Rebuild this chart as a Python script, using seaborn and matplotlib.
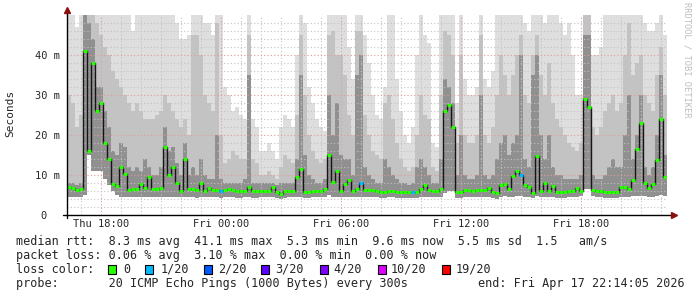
import numpy as np
import pandas as pd
import matplotlib
matplotlib.use("Agg")
import matplotlib.pyplot as plt
import seaborn as sns
from matplotlib.patches import Rectangle

# ---------------- data ----------------
start_hour = 16.3      # left edge, hours after Thu 00:00
step_hours = 0.2       # 12-minute bins

median_ms = [
    7.0, 6.8, 6.2, 6.4, 41.0, 16.0, 38.0, 26.0, 28.0, 18.0,
    14.0, 7.8, 7.2, 12.0, 10.3, 6.3, 6.6, 6.6, 7.8, 6.8,
    9.5, 6.6, 6.6, 6.8, 17.0, 10.0, 12.0, 8.0, 6.0, 14.0,
    6.4, 6.4, 6.2, 8.0, 6.0, 6.8, 6.2, 6.2, 6.0, 6.2,
    6.4, 6.2, 6.0, 6.0, 6.0, 7.0, 5.9, 5.9, 6.0, 6.0,
    6.0, 7.0, 5.8, 5.3, 6.0, 6.0, 6.0, 9.5, 11.6, 5.8,
    5.8, 6.0, 6.0, 6.0, 6.4, 15.0, 8.2, 11.0, 6.0, 7.8,
    8.7, 6.0, 6.5, 8.0, 6.3, 6.3, 6.3, 6.1, 5.8, 5.8,
    6.0, 6.0, 5.8, 5.8, 5.8, 5.8, 5.8, 5.8, 6.6, 7.6,
    6.2, 6.0, 6.0, 6.5, 26.0, 27.5, 22.0, 5.8, 5.8, 6.2,
    6.2, 6.1, 6.2, 6.2, 6.2, 6.8, 5.8, 5.5, 7.4, 7.8,
    6.6, 9.8, 11.0, 10.0, 7.4, 7.0, 5.6, 14.7, 6.0, 8.0,
    6.0, 7.2, 5.8, 5.8, 5.8, 6.0, 6.0, 6.7, 6.0, 29.0,
    27.0, 6.2, 6.0, 6.0, 5.8, 5.8, 5.8, 5.8, 7.0, 7.0,
    6.4, 8.7, 16.6, 23.0, 8.0, 6.8, 7.7, 13.7, 24.0, 9.6,
]

loss_of_20 = [
    0, 0, 0, 0, 0, 0, 0, 0, 0, 0, 0, 0, 0, 0, 0, 0, 0, 0, 0, 0, 0, 0, 0, 0, 0, 0, 0, 0, 0, 0,
    0, 0, 0, 0, 0, 0, 0, 0, 1, 0, 0, 0, 0, 0, 0, 0, 0, 0, 0, 0, 0, 0, 0, 0, 0, 0, 0, 0, 0, 0,
    0, 0, 0, 0, 0, 0, 0, 0, 0, 0, 0, 0, 0, 1, 0, 0, 0, 0, 0, 0, 0, 0, 0, 0, 0, 0, 1, 0, 0, 0,
    0, 0, 0, 0, 0, 0, 0, 0, 0, 0, 0, 0, 0, 0, 0, 0, 0, 0, 0, 0, 0, 0, 0, 1, 0, 0, 0, 0, 0, 0,
    0, 0, 0, 0, 0, 0, 0, 0, 0, 0, 0, 0, 0, 0, 0, 0, 0, 0, 0, 0, 0, 0, 0, 0, 0, 0, 0, 0, 0, 0,
]

smoke_min = [
    4.5, 4.5, 4.5, 4.6, 5.0, 15.0, 11.0, 11.0, 11.0, 9.0,
    7.5, 6.0, 5.0, 4.5, 4.5, 4.6, 4.5, 4.5, 4.4, 4.5,
    4.5, 4.6, 4.5, 4.5, 4.6, 4.5, 4.5, 4.4, 4.5, 4.5,
    4.5, 4.4, 4.3, 4.5, 4.4, 4.5, 4.5, 4.4, 4.3, 4.5,
    4.4, 4.4, 4.3, 4.3, 4.4, 4.5, 4.3, 4.3, 4.4, 4.4,
    4.4, 4.5, 4.2, 4.0, 4.3, 4.4, 4.4, 4.5, 4.5, 4.3,
    4.2, 4.4, 4.4, 4.4, 4.5, 5.0, 4.6, 4.5, 4.4, 4.5,
    4.5, 4.4, 4.5, 4.6, 4.5, 4.5, 4.5, 4.4, 4.3, 4.3,
    4.4, 4.4, 4.3, 4.3, 4.3, 4.3, 4.3, 4.3, 4.5, 4.6,
    4.5, 4.4, 4.4, 4.6, 5.5, 6.0, 6.0, 4.3, 4.3, 4.5,
    4.5, 4.4, 4.5, 4.5, 4.5, 4.6, 4.3, 4.1, 4.6, 4.7,
    4.5, 4.6, 4.7, 4.7, 4.5, 4.5, 4.2, 4.8, 4.5, 4.6,
    4.5, 4.6, 4.3, 4.3, 4.3, 4.4, 4.4, 4.5, 4.8, 6.5,
    6.5, 4.8, 4.4, 4.4, 4.3, 4.3, 4.3, 4.3, 4.6, 4.6,
    4.5, 4.7, 4.8, 4.8, 4.7, 4.5, 4.6, 4.8, 5.0, 4.8,
]

smoke_dark = [
    8, 8, 7.5, 8, 50, 48, 44, 32, 32, 26,
    22, 16, 15, 18, 17, 12, 11, 12, 11, 14,
    12, 10, 10, 12, 22, 16, 17, 13, 10, 18,
    10, 12, 10, 14, 10, 9, 9, 20, 9, 8,
    8, 8, 8, 8, 9, 35, 8, 8, 8, 8,
    8, 8, 7.5, 8, 8, 8, 8, 14, 35, 15,
    10, 9, 8, 8, 9, 30, 20, 28, 15, 14,
    14, 10, 35, 40, 12, 10, 9, 8, 8, 14,
    12, 10, 9, 8, 8, 7.5, 8, 12, 14, 12,
    10, 8, 8, 14, 34, 32, 28, 10, 20, 10,
    9, 9, 10, 30, 10, 9, 10, 14, 18, 20,
    15, 18, 20, 40, 14, 12, 35, 40, 20, 14,
    20, 12, 10, 10, 9, 9, 9, 9, 10, 45,
    45, 10, 9, 9, 10, 12, 14, 12, 12, 20,
    30, 14, 20, 30, 12, 10, 12, 20, 35, 15,
]

smoke_mid = [
    30, 28, 22, 25, 50, 50, 50, 48, 45, 42,
    40, 36, 34, 32, 30, 28, 26, 28, 26, 24,
    24, 24, 25, 26, 30, 28, 26, 24, 22, 24,
    20, 45, 45, 40, 30, 28, 26, 48, 20, 13,
    14, 16, 15, 14, 14, 45, 14, 13, 10, 10,
    11, 10, 9, 12, 15, 14, 13, 25, 45, 30,
    20, 16, 14, 13, 14, 45, 46, 40, 40, 35,
    25, 20, 46, 46, 25, 20, 16, 15, 14, 28,
    30, 24, 18, 14, 12, 11, 12, 20, 30, 25,
    24, 12, 11, 30, 46, 45, 40, 18, 40, 20,
    18, 18, 20, 45, 20, 18, 22, 30, 40, 35,
    30, 35, 40, 45, 30, 28, 40, 45, 35, 30,
    38, 28, 24, 22, 20, 18, 17, 16, 18, 50,
    50, 22, 20, 22, 26, 28, 30, 26, 28, 40,
    48, 35, 38, 40, 30, 28, 26, 35, 42, 30,
]

smoke_max = [
    50, 50, 47, 50, 50, 50, 50, 50, 50, 50,
    50, 50, 50, 50, 50, 50, 46, 50, 50, 50,
    50, 50, 50, 50, 50, 50, 50, 48, 44, 44,
    45, 50, 50, 50, 48, 48, 45, 50, 50, 32,
    30, 26, 27, 25, 24, 50, 24, 22, 16, 16,
    18, 16, 14, 22, 25, 24, 22, 40, 50, 48,
    32, 28, 24, 22, 21, 50, 50, 50, 50, 50,
    42, 34, 50, 50, 45, 38, 30, 25, 24, 32,
    50, 50, 34, 26, 20, 18, 22, 40, 50, 45,
    43, 18, 17, 50, 50, 50, 50, 28, 50, 34,
    30, 30, 32, 50, 34, 32, 36, 50, 50, 50,
    50, 50, 50, 50, 48, 46, 50, 50, 50, 48,
    50, 50, 50, 48, 45, 48, 40, 30, 30, 50,
    50, 40, 40, 42, 50, 50, 50, 50, 50, 50,
    50, 50, 50, 50, 48, 46, 46, 48, 50, 45,
]

x_tick_hours = [18, 24, 30, 36, 42]
x_tick_labels = ["Thu 18:00", "Fri 00:00", "Fri 06:00", "Fri 12:00", "Fri 18:00"]
y_tick_values = [0, 10, 20, 30, 40]
y_tick_labels = ["0  ", "10 m", "20 m", "30 m", "40 m"]

loss_names = ["0", "1/20", "2/20", "3/20", "4/20", "10/20", "19/20"]
loss_thresholds = [0, 1, 2, 3, 4, 10, 19]
loss_palette = ["#26ff00", "#00b8ff", "#0059ff", "#5e00ff", "#7e00ff", "#dd00ff", "#ff0000"]

line_rtt = "median rtt:  8.3 ms avg  41.1 ms max  5.3 ms min  9.6 ms now  5.5 ms sd  1.5   am/s"
line_loss = "packet loss: 0.06 % avg  3.10 % max  0.00 % min  0.00 % now"
line_color = "loss color:"
line_probe = "probe:       20 ICMP Echo Pings (1000 Bytes) every 300s"
line_end = "end: Fri Apr 17 22:14:05 2026"
y_title = "Seconds"
watermark = "RRDTOOL / TOBI OETIKER"

# ---------------- drawing ----------------
sns.set_style("white")
plt.rcParams['font.family'] = ['DejaVu Sans Mono', 'DejaVu Sans']

W, H = 697, 297
fig = plt.figure(figsize=(W / 100, H / 100), dpi=100)
ax = fig.add_axes([67 / W, 82 / H, 600 / W, 200 / H])

n = len(median_ms)
edges = start_hour + step_hours * np.arange(n + 1)


def close(v):
    v = np.asarray(v, dtype=float)
    return np.append(v, v[-1])


ax.fill_between(edges, close(smoke_min), close(smoke_max), step='post',
                color='#dedede', lw=0, zorder=1)
ax.fill_between(edges, close(smoke_min), close(smoke_mid), step='post',
                color='#c3c3c3', lw=0, zorder=1.1)
ax.fill_between(edges, close(smoke_min), close(smoke_dark), step='post',
                color='#909090', lw=0, zorder=1.2)

df = pd.DataFrame({'hour': edges, 'median': close(median_ms)})
sns.lineplot(data=df, x='hour', y='median', drawstyle='steps-post',
             color='#151515', lw=1.0, ax=ax, zorder=4)


def loss_color(l):
    idx = 0
    for i, th in enumerate(loss_thresholds):
        if l >= th:
            idx = i
    return loss_palette[idx]


ax.hlines(median_ms, edges[:-1], edges[1:],
          colors=[loss_color(l) for l in loss_of_20], lw=2.2, zorder=5)

ax.set_xlim(edges[0], edges[-1])
ax.set_ylim(0, 50)
ax.set_xticks(x_tick_hours, x_tick_labels)
ax.set_xticks(np.arange(17, 47, 1), minor=True)
ax.set_yticks(y_tick_values, y_tick_labels)
ax.set_yticks(np.arange(2, 50, 2), minor=True)
ax.set_xlabel("")
ax.set_ylabel("")
ax.grid(which='major', color='#e39a9a', ls=(0, (1, 2)), lw=0.8)
ax.grid(which='minor', color='#c2c2c2', ls=(0, (1, 2)), lw=0.8)
ax.set_axisbelow(False)
ax.tick_params(axis='both', which='both', length=0, labelsize=7.5)
ax.tick_params(axis='y', pad=5)
ax.tick_params(axis='x', pad=3)
for s in ax.spines.values():
    s.set_visible(False)

# axis lines with arrow heads
ax.plot([-0.006, 1.008], [0, 0], transform=ax.transAxes, color='black',
        lw=1.0, clip_on=False, zorder=6)
ax.plot([0, 0], [-0.015, 1.02], transform=ax.transAxes, color='black',
        lw=1.0, clip_on=False, zorder=6)
ax.plot([1.011], [0], marker='>', ms=5, color='#8b1010', transform=ax.transAxes,
        clip_on=False, zorder=7)
ax.plot([0], [1.026], marker='^', ms=5, color='#8b1010', transform=ax.transAxes,
        clip_on=False, zorder=7)

# titles / watermark
fig.text(10 / W, 1 - 113 / H, y_title, rotation=90, ha='center', va='center',
         fontsize=8)
fig.text(687 / W, 1 - 60 / H, watermark, rotation=270, ha='center', va='center',
         fontsize=6.3, color='#bdbdbd')

# legend block
fs = 8.5
fig.text(16 / W, 1 - 241 / H, line_rtt, ha='left', va='center', fontsize=fs)
fig.text(16 / W, 1 - 255.5 / H, line_loss, ha='left', va='center', fontsize=fs)
fig.text(16 / W, 1 - 269.5 / H, line_color, ha='left', va='center', fontsize=fs)
fig.text(16 / W, 1 - 283.5 / H, line_probe, ha='left', va='center', fontsize=fs)
fig.text(478 / W, 1 - 283.5 / H, line_end, ha='left', va='center', fontsize=fs)

box_x = [108, 145, 203.5, 261, 320, 378, 442]
label_x = [123.5, 161, 218, 275.5, 333, 391, 455.5]
for bx, lx, name, col in zip(box_x, label_x, loss_names, loss_palette):
    fig.add_artist(Rectangle((bx / W, 1 - 274 / H), 8 / W, 9 / H,
                             transform=fig.transFigure, facecolor=col,
                             edgecolor='black', lw=0.8))
    fig.text(lx / W, 1 - 269.5 / H, name, ha='left', va='center', fontsize=fs)

fig.savefig("out.png", dpi=100, facecolor='white')
